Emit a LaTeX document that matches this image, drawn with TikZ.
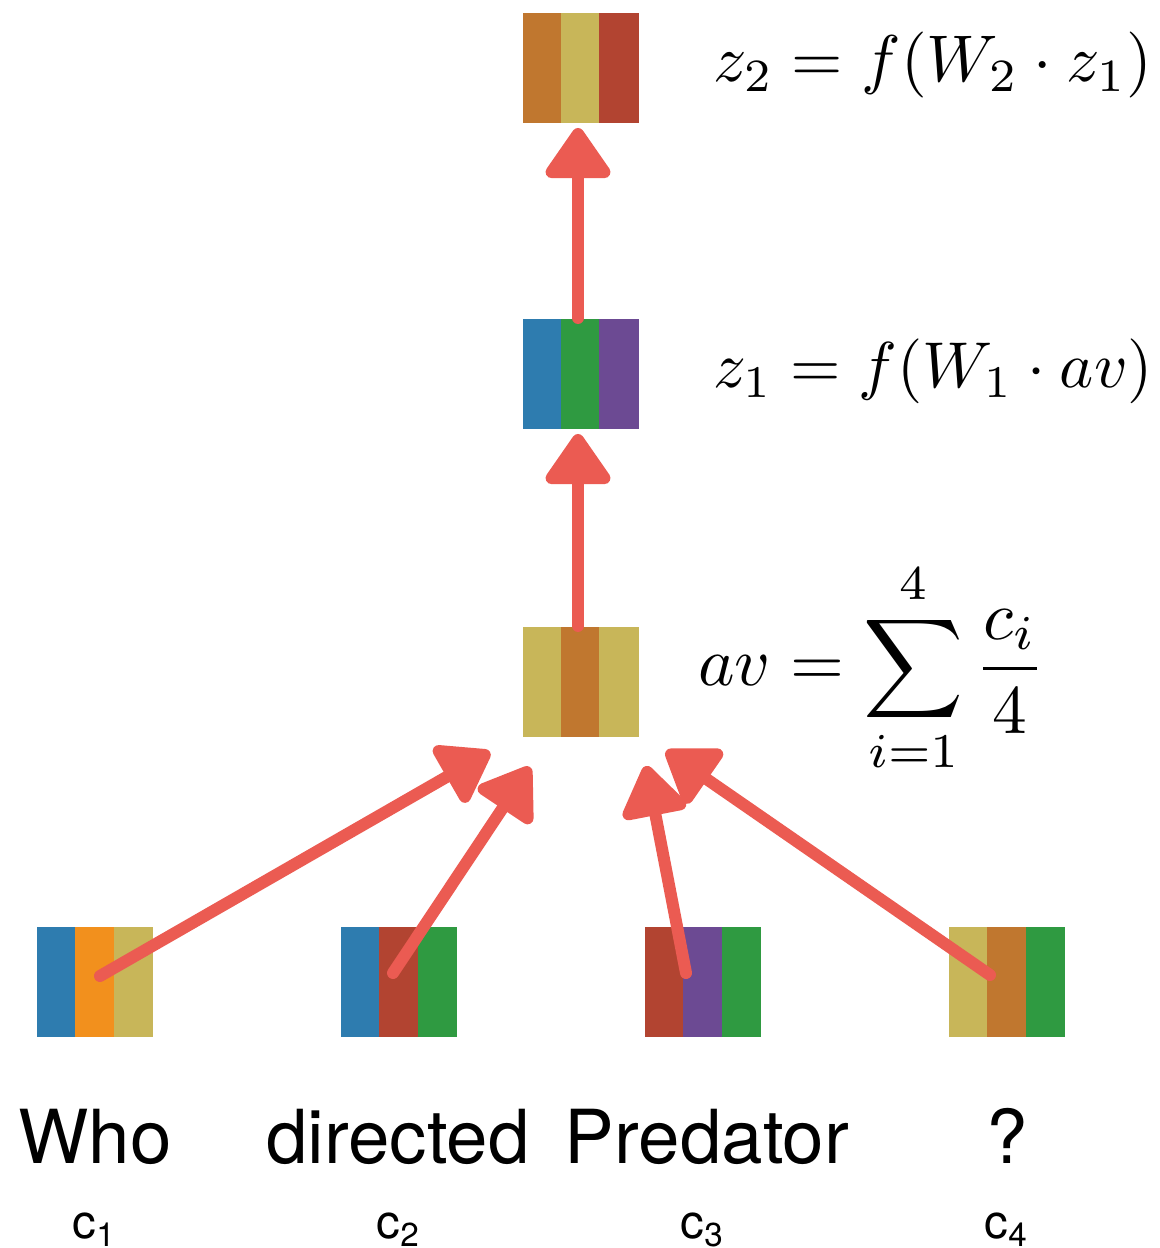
\documentclass[tikz,border=0pt]{standalone}
\usepackage{fontspec}
\setsansfont{TeX Gyre Heros}
\usetikzlibrary{arrows.meta}
\definecolor{cOrB}{HTML}{C0772F}
\definecolor{cYel}{HTML}{C8B659}
\definecolor{cRed}{HTML}{B24431}
\definecolor{cBlu}{HTML}{2E7CAF}
\definecolor{cGrn}{HTML}{2F9A41}
\definecolor{cPur}{HTML}{6C4A93}
\definecolor{cOrg}{HTML}{F2901D}
\definecolor{arrowred}{HTML}{EB5B52}
\tikzset{
  boxnode/.style={minimum width=23.2pt, minimum height=22pt, inner sep=0pt, draw=none},
  chalk/.style={draw=arrowred, line width=2.4pt, line cap=round,
    -{Triangle[length=11pt,width=14.5pt,round]}},
  word/.style={font=\sffamily\fontsize{14.9}{16}\selectfont, anchor=base, inner sep=0pt},
  lbl/.style={font=\sffamily\fontsize{9.5}{10}\selectfont, anchor=base, inner sep=0pt},
  formula/.style={anchor=base west, inner sep=0pt, scale=1.32},
}
\newcommand\stripebox[6]{%
  \fill[#4] ({#2-58},{#3-55}) rectangle ({#2-19},{#3+55});
  \fill[#5] ({#2-19.6},{#3-55}) rectangle ({#2+19},{#3+55});
  \fill[#6] ({#2+18.6},{#3-55}) rectangle ({#2+58},{#3+55});
  \node[boxnode] (#1) at (#2,#3) {};}
\begin{document}
\begin{tikzpicture}[x=0.2pt,y=-0.2pt]
\useasboundingbox (0,0) rectangle (1159,1248);
% boxes
\stripebox{top}{580.5}{68}{cOrB}{cYel}{cRed}
\stripebox{mid}{580.5}{374}{cBlu}{cGrn}{cPur}
\stripebox{av}{580.5}{682}{cYel}{cOrB}{cYel}
\stripebox{c1}{95}{981.5}{cBlu}{cOrg}{cYel}
\stripebox{c2}{399}{981.5}{cBlu}{cRed}{cGrn}
\stripebox{c3}{703}{981.5}{cRed}{cPur}{cGrn}
\stripebox{c4}{1007}{981.5}{cYel}{cOrB}{cGrn}
% arrows
\draw[chalk, shorten >=0.8pt] ([xshift=-0.5pt]mid.north) -- ([xshift=-0.5pt]top.south);
\draw[chalk, shorten >=0.8pt] ([xshift=-0.5pt]av.north) -- ([xshift=-0.5pt]mid.south);
\coordinate (s1) at (100,976);
\coordinate (s2) at (393,973);
\coordinate (s3) at (686,973);
\coordinate (s4) at (990,975);
\coordinate (t1) at (490,752);
\coordinate (t2) at (530,767);
\coordinate (t3) at (646,766);
\coordinate (t4) at (666,751);
\draw[chalk] (s1) -- (t1);
\draw[chalk] (s2) -- (t2);
\draw[chalk] (s3) -- (t3);
\draw[chalk] (s4) -- (t4);
% formulas
\node[formula] (f2) at (712,82) {$z_2 = f(W_2\cdot z_1)$};
\node[formula, scale=0.982] (f1) at (712,388) {$z_1 = f(W_1\cdot av)$};
\node[formula, scale=1.05] (f0) at (697,686) {$\displaystyle av = \sum_{i=1}^{4}\frac{c_i}{4}$};
% words
\node[word] (w1) at (95,1163) {Who};
\node[word] (w2) at (398,1163) {directed};
\node[word] (w3) at (707,1163) {Predator};
\node[word] (w4) at (1007,1163) {?};
\node[lbl] (l1) at (95,1238) {c\textsubscript{1}};
\node[lbl] (l2) at (399,1238) {c\textsubscript{2}};
\node[lbl] (l3) at (703,1238) {c\textsubscript{3}};
\node[lbl] (l4) at (1007,1238) {c\textsubscript{4}};
\end{tikzpicture}
\end{document}
